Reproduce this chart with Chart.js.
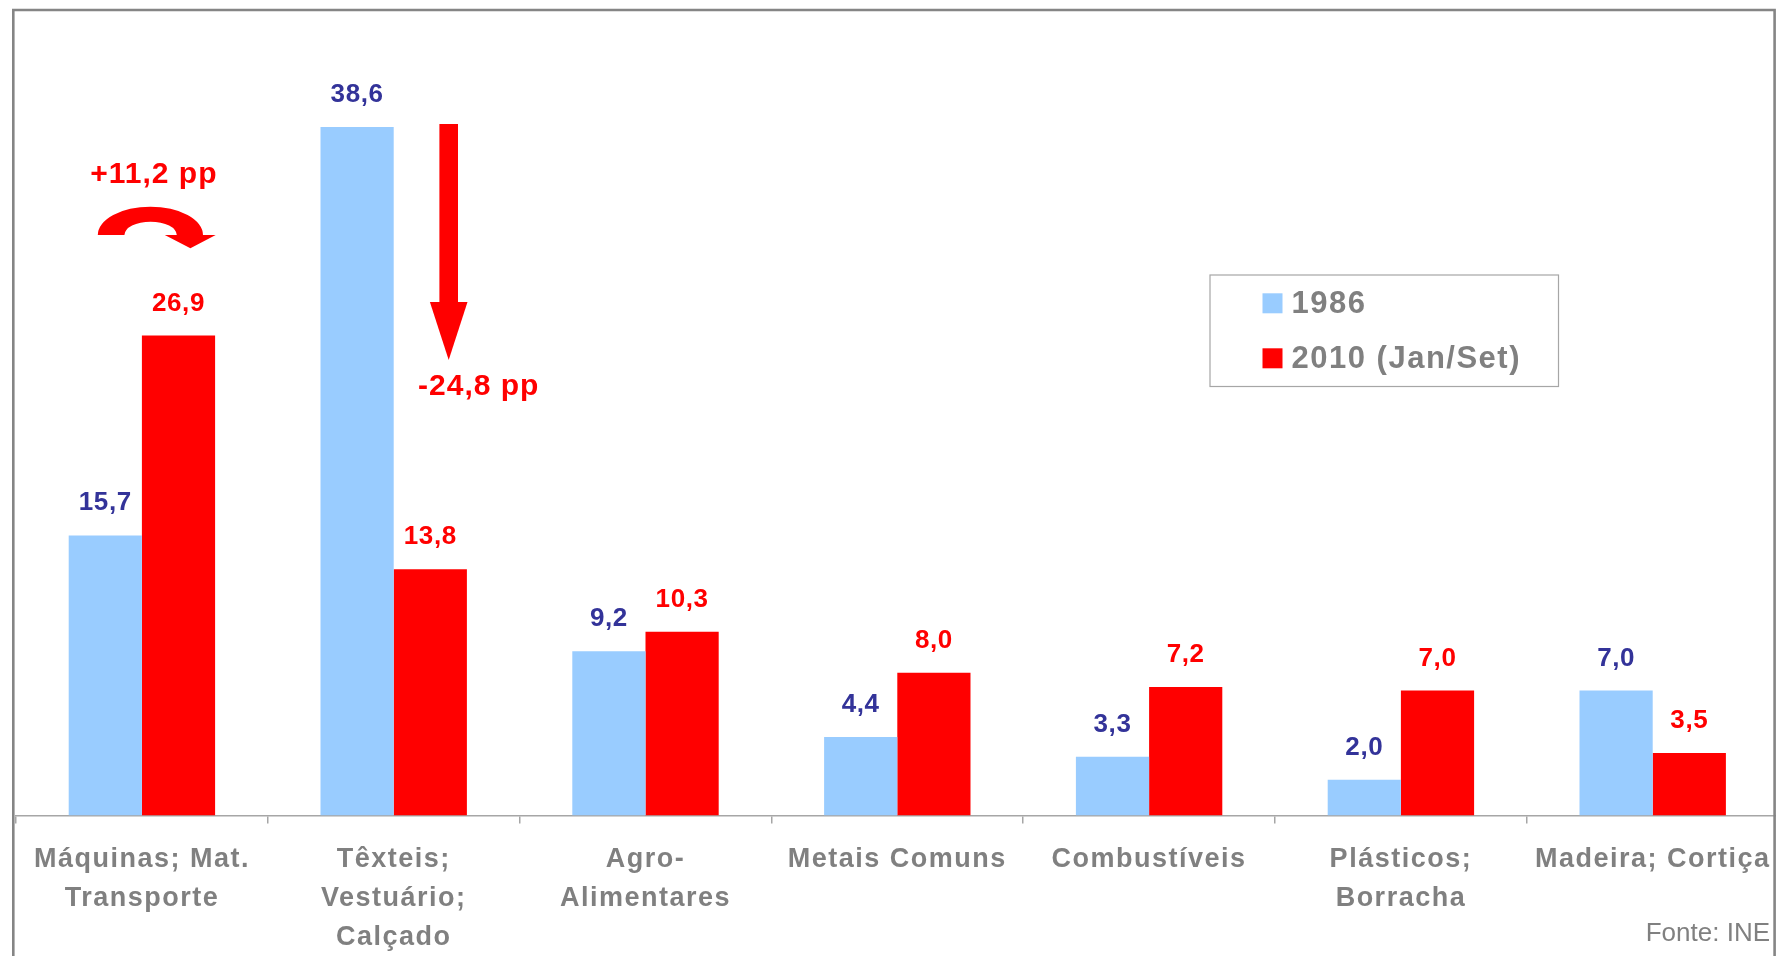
<!DOCTYPE html>
<html><head><meta charset="utf-8">
<script src="https://cdn.jsdelivr.net/npm/chart.js@4.4.0/dist/chart.umd.min.js"></script>
<style>
html,body{margin:0;padding:0;overflow:hidden;background:#fff;width:1776px;height:956px}
canvas{display:block;position:absolute;left:0;top:0}
</style></head>
<body>
<canvas id="c" width="1790" height="956" style="width:1790px;height:956px"></canvas>
<script>
const categories = [["Máquinas; Mat.","Transporte"],["Têxteis;","Vestuário;","Calçado"],["Agro-","Alimentares"],"Metais Comuns","Combustíveis",["Plásticos;","Borracha"],"Madeira; Cortiça"];
const seriesNames = ["1986","2010 (Jan/Set)"];
const values1986 = [15.7,38.6,9.2,4.4,3.3,2.0,7.0];
const values2010 = [26.9,13.8,10.3,8.0,7.2,7.0,3.5];
const changeNotes = ["+11,2 pp","-24,8 pp"];
const sourceNote = "Fonte: INE";

const BLUE = '#99CCFF', RED = '#FF0000', NAVY = '#333399', GRAY = '#808080';
const FONT = '"Liberation Sans", Arial, sans-serif';

const fmt = v => v.toFixed(1).replace('.', ',');

const decor = {
  id: 'decor',
  beforeDraw(chart) {
    chart.ctx.letterSpacing = '1.5px';
  },
  beforeDatasetsDraw(chart) {
    chart.ctx.letterSpacing = '0px';
  },
  afterDraw(chart) {
    const ctx = chart.ctx;
    const xs = chart.scales.x;
    ctx.save();
    // value labels
    ctx.font = 'bold 26px ' + FONT;
    ctx.letterSpacing = '0.6px';
    ctx.textAlign = 'center';
    ctx.textBaseline = 'alphabetic';
    chart.data.datasets.forEach((ds, di) => {
      const meta = chart.getDatasetMeta(di);
      meta.data.forEach((bar, i) => {
        ctx.fillStyle = di === 0 ? NAVY : RED;
        ctx.fillText(fmt(ds.data[i]), bar.x, bar.y - 25);
      });
    });

    // annotations
    const c0 = xs.getPixelForValue(0);
    const c1 = xs.getPixelForValue(1);
    ctx.fillStyle = RED;
    ctx.font = 'bold 30px ' + FONT;
    ctx.letterSpacing = '1px';
    ctx.fillText(changeNotes[0], c0 + 12, 183);
    ctx.fillText(changeNotes[1], c1 + 85, 395);

    // curved arrow
    const cx = c0 + 8.5, base = 235;
    ctx.beginPath();
    ctx.moveTo(cx - 52.6, base);
    ctx.ellipse(cx, base, 52.6, 28.3, 0, Math.PI, 2 * Math.PI);
    ctx.lineTo(cx + 65.3, base);
    ctx.lineTo(cx + 40, base + 13.3);
    ctx.lineTo(cx + 14.4, base);
    ctx.lineTo(cx + 26.4, base);
    ctx.ellipse(cx + 0.2, base, 26.2, 13.3, 0, 2 * Math.PI, Math.PI, true);
    ctx.closePath();
    ctx.fill();

    // straight down arrow
    const ax = c1 + 55;
    ctx.fillRect(ax - 9.3, 124, 18.6, 178);
    ctx.beginPath();
    ctx.moveTo(ax - 18.8, 302);
    ctx.lineTo(ax + 18.8, 302);
    ctx.lineTo(ax, 360);
    ctx.closePath();
    ctx.fill();

    // legend
    ctx.letterSpacing = '1.5px';
    ctx.strokeStyle = '#a6a6a6';
    ctx.lineWidth = 1.2;
    ctx.strokeRect(1210, 275, 348.5, 111.5);
    ctx.font = 'bold 31px ' + FONT;
    ctx.textAlign = 'left';
    chart.data.datasets.forEach((ds, di) => {
      const cy = 303.3 + di * 55;
      ctx.fillStyle = ds.backgroundColor;
      ctx.fillRect(1262.5, cy - 10, 20, 20);
      ctx.fillStyle = GRAY;
      ctx.fillText(ds.label, 1291.5, cy + 9.6);
    });

    // source
    ctx.letterSpacing = '0px';
    ctx.font = '26px ' + FONT;
    ctx.textAlign = 'right';
    ctx.fillStyle = GRAY;
    ctx.fillText(sourceNote, 1770, 941);

    // frame
    ctx.strokeStyle = '#858585';
    ctx.lineWidth = 2.6;
    ctx.beginPath();
    ctx.moveTo(13.3, 960);
    ctx.lineTo(13.3, 10);
    ctx.lineTo(1774.6, 10);
    ctx.lineTo(1774.6, 960);
    ctx.stroke();
    ctx.restore();
  }
};

new Chart(document.getElementById('c'), {
  type: 'bar',
  data: {
    labels: categories,
    datasets: [
      { label: seriesNames[0], data: values1986, backgroundColor: BLUE },
      { label: seriesNames[1], data: values2010, backgroundColor: RED }
    ]
  },
  options: {
    responsive: false,
    devicePixelRatio: 1,
    animation: false,
    layout: { padding: { left: 16, right: 11.4, top: 12.7, bottom: 0 } },
    plugins: { legend: { display: false }, tooltip: { enabled: false } },
    datasets: { bar: { categoryPercentage: 0.5814, barPercentage: 1.0, borderWidth: 0 } },
    scales: {
      x: {
        grid: { display: true, drawOnChartArea: false, drawTicks: true, tickLength: 8, color: '#a6a6a6', lineWidth: 1.5, offset: true },
        border: { display: true, color: '#a6a6a6', width: 1.5 },
        ticks: {
          autoSkip: false, maxRotation: 0, minRotation: 0, padding: 16.5,
          color: GRAY,
          font: { family: FONT, size: 27, weight: 'bold', lineHeight: 1.44 }
        },
        afterFit(scale) { scale.height = 140.5; }
      },
      y: { display: false, min: 0, max: 45 }
    }
  },
  plugins: [decor]
});
</script>
</body></html>
